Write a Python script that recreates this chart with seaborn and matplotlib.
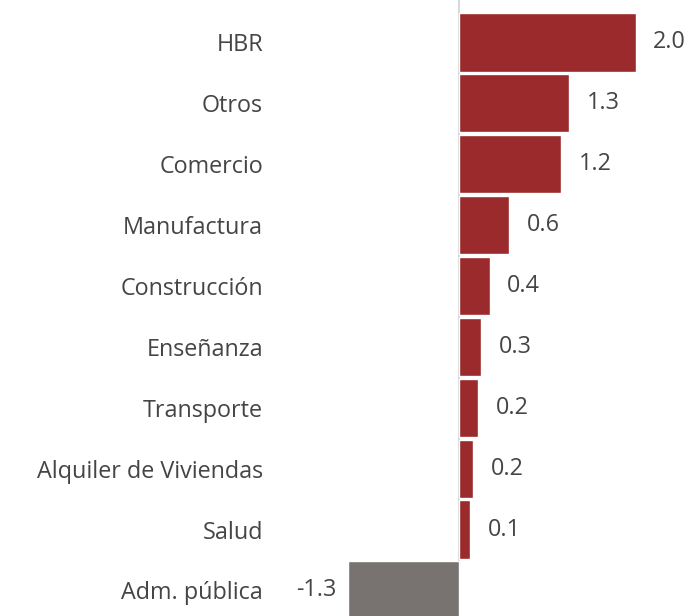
import matplotlib
matplotlib.use("Agg")
import matplotlib.pyplot as plt
import seaborn as sns
import pandas as pd

categories = ["HBR", "Otros", "Comercio", "Manufactura", "Construcción",
              "Enseñanza", "Transporte", "Alquiler de Viviendas", "Salud", "Adm. pública"]
values = [2.0, 1.25, 1.16, 0.57, 0.35, 0.25, 0.22, 0.16, 0.13, -1.26]
value_labels = ["2.0", "1.3", "1.2", "0.6", "0.4", "0.3", "0.2", "0.2", "0.1", "-1.3"]

RED = "#9a2a2b"
GRAY = "#787371"
TEXT = "#454545"

sns.set_theme(style="white")
plt.rcParams["font.family"] = ["Open Sans", "DejaVu Sans"]

df = pd.DataFrame({"cat": categories, "val": values})
df["sign"] = ["pos" if v >= 0 else "neg" for v in values]

fig = plt.figure(figsize=(6.92, 6.16), dpi=100)
ax = fig.add_axes([270 / 692, 0, 1 - 270 / 692, 1])

sns.barplot(data=df, x="val", y="cat", hue="sign", palette={"pos": RED, "neg": GRAY},
            orient="h", width=0.955, dodge=False, legend=False, ax=ax, saturation=1)

ax.axvline(0, color="#d9d9d9", lw=1.5, zorder=0)

scale = 88.3  # px per unit
ax.set_xlim(-(459 - 270) / scale, (692 - 459) / scale)
ax.set_ylim(9.42, -0.698)

FS = 16.8
for i, (v, lab) in enumerate(zip(values, value_labels)):
    if v >= 0:
        ax.annotate(lab, (v, i), xytext=(12.5, 0), textcoords="offset points",
                    ha="left", va="center", fontsize=FS, color=TEXT)
    else:
        ax.annotate(lab, (v, i), xytext=(-8, 0), textcoords="offset points",
                    ha="right", va="center", fontsize=FS, color=TEXT)

ax.set_xlabel("")
ax.set_ylabel("")
ax.set_xticks([])
ax.tick_params(axis="y", length=0, pad=5, labelsize=FS, labelcolor=TEXT)
for s in ax.spines.values():
    s.set_visible(False)

fig.savefig("out.png", dpi=100)
